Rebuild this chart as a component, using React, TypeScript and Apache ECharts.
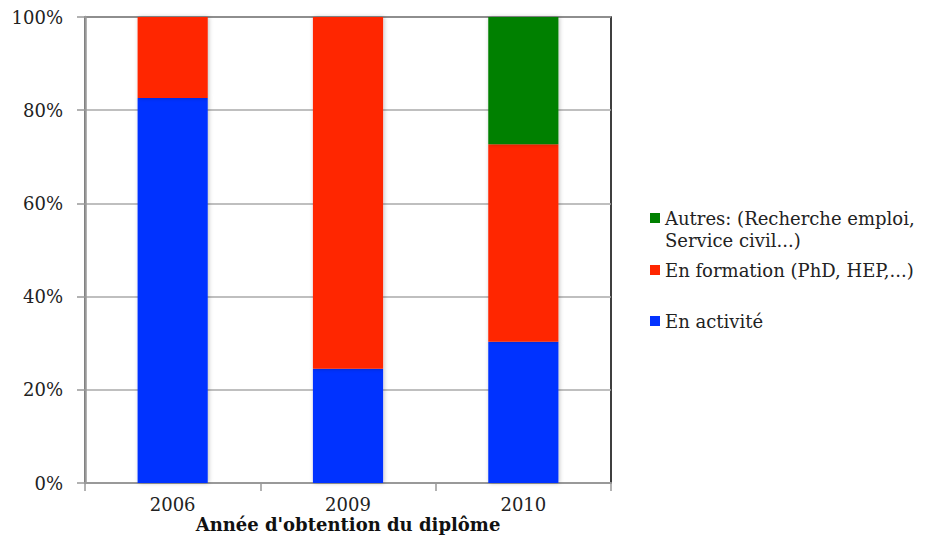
import React, { useEffect, useRef } from "react";
import * as echarts from "echarts";

const categories = ["2006", "2009", "2010"];
const enActivite = [82.6, 24.5, 30.3];
const enFormation = [17.4, 75.5, 42.4];
const autres = [0, 0, 27.3];
const yTicks = { min: 0, max: 100, interval: 20 };

const seriesNames = {
  activite: "En activité",
  formation: "En formation (PhD, HEP,...)",
  autres: "Autres: (Recherche emploi,\nService civil...)",
};

const FONT = "DejaVu Serif";

export default function App() {
  const ref = useRef<HTMLDivElement>(null);
  useEffect(() => {
    if (!ref.current) return;
    const chart = echarts.init(ref.current, undefined, { renderer: "svg" });
    const shadow = { shadowBlur: 4, shadowColor: "rgba(0,0,0,0.25)", shadowOffsetX: 1, shadowOffsetY: 0 };
    const legendText = { fontFamily: FONT, fontSize: 18, color: "#222", lineHeight: 22 };
    chart.setOption({
      animation: false,
      backgroundColor: "#fff",
      textStyle: { fontFamily: FONT },
      grid: {
        left: 85,
        right: 316,
        top: 17,
        bottom: 53,
        outerBoundsMode: "none",
        show: true,
        borderColor: "#000",
        borderWidth: 1.5,
        backgroundColor: "transparent",
      },
      legend: [
        {
          data: [seriesNames.autres],
          orient: "vertical",
          left: 650,
          top: 185,
          padding: 0,
          itemWidth: 10,
          itemHeight: 10,
          itemGap: 0,
          icon: "rect",
          selectedMode: false,
          formatter: (name: string) => "\n" + name,
          textStyle: legendText,
        },
        {
          data: [seriesNames.formation],
          orient: "vertical",
          left: 650,
          top: 259,
          padding: 0,
          itemWidth: 10,
          itemHeight: 10,
          icon: "rect",
          selectedMode: false,
          textStyle: legendText,
        },
        {
          data: [seriesNames.activite],
          orient: "vertical",
          left: 650,
          top: 310,
          padding: 0,
          itemWidth: 10,
          itemHeight: 10,
          icon: "rect",
          selectedMode: false,
          textStyle: legendText,
        },
      ],
      xAxis: {
        type: "category",
        data: categories,
        name: "Année d'obtention du diplôme",
        nameLocation: "middle",
        nameGap: 31,
        nameMoveOverlap: false,
        nameTextStyle: { fontFamily: FONT, fontSize: 18, fontWeight: "bold", color: "#111", lineHeight: 20 },
        axisLine: { show: true, lineStyle: { color: "#999", width: 2 } },
        axisTick: { show: true, length: 8, lineStyle: { color: "#999", width: 1.5 } },
        axisLabel: { fontFamily: FONT, fontSize: 18, color: "#222", margin: 12 },
      },
      yAxis: {
        type: "value",
        min: yTicks.min,
        max: yTicks.max,
        interval: yTicks.interval,
        axisLine: { show: true, lineStyle: { color: "#999", width: 2.5 } },
        axisTick: { show: true, length: 8, lineStyle: { color: "#999", width: 1.5 } },
        axisLabel: { fontFamily: FONT, fontSize: 18, color: "#222", margin: 22, formatter: "{value}%" },
        splitLine: { show: true, lineStyle: { color: "#aaa", width: 1.5 } },
      },
      series: [
        {
          name: seriesNames.activite,
          type: "bar",
          stack: "total",
          barWidth: "40%",
          data: enActivite,
          itemStyle: { color: "#0433FF", ...shadow },
        },
        {
          name: seriesNames.formation,
          type: "bar",
          stack: "total",
          barWidth: "40%",
          data: enFormation,
          itemStyle: { color: "#FF2600", ...shadow },
        },
        {
          name: seriesNames.autres,
          type: "bar",
          stack: "total",
          barWidth: "40%",
          data: autres,
          itemStyle: { color: "#008000", ...shadow },
        },
      ],
    });
    return () => chart.dispose();
  }, []);
  return (
    <div
      ref={ref}
      style={{ position: "fixed", left: 0, top: 0, width: 927, height: 536, background: "#fff" }}
    />
  );
}
